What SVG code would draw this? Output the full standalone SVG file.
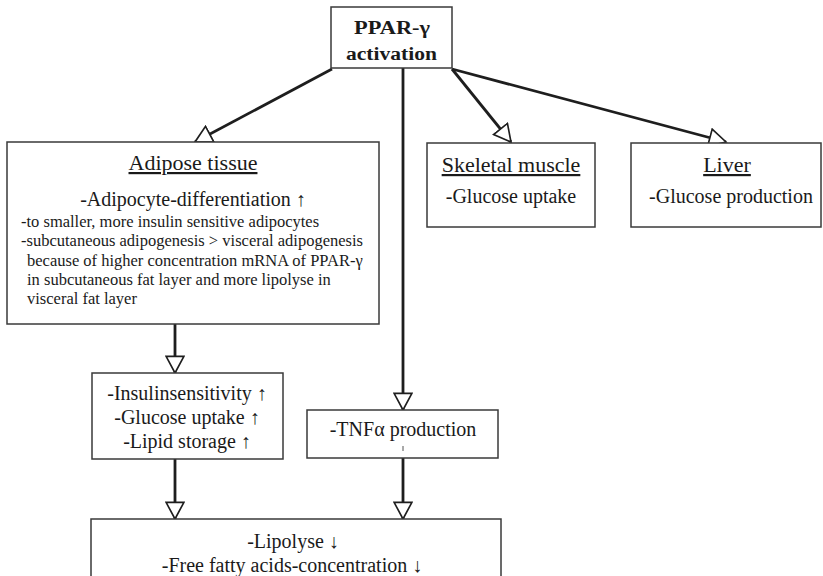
<svg xmlns="http://www.w3.org/2000/svg" width="823" height="576" viewBox="0 0 823 576">
<style>
.box{fill:#fff;stroke:#3a3a3a;stroke-width:1.5}
.conn{stroke:#1e1e1e;stroke-width:2.8;fill:none;marker-end:url(#oa)}
</style>
<defs>
<marker id="oa" markerUnits="userSpaceOnUse" markerWidth="20" markerHeight="20" viewBox="0 0 18 18" refX="16" refY="9" orient="auto">
<path d="M1,1 L16,9 L1,17 Z" fill="#fff" stroke="#1e1e1e" stroke-width="1.5" stroke-linejoin="miter"/>
</marker>
</defs>
<rect width="823" height="576" fill="#fff"/>
<g id="connectors">
<line class="conn" x1="332" y1="69" x2="195" y2="142"/>
<line class="conn" x1="452" y1="69" x2="511" y2="142"/>
<line class="conn" x1="452" y1="69" x2="726" y2="142"/>
<line class="conn" x1="403" y1="68" x2="403" y2="410"/>
<line class="conn" x1="175" y1="324" x2="175" y2="373"/>
<line class="conn" x1="175" y1="459" x2="175" y2="519"/>
<line class="conn" x1="403" y1="458" x2="403" y2="519"/>
</g>
<g font-family="Liberation Serif" fill="#1a1a1a">
<g id="ppar" text-anchor="middle">
<rect class="box" x="331" y="7" width="121" height="61"/>
<text x="392" y="34" font-size="18" font-weight="bold" textLength="76" lengthAdjust="spacingAndGlyphs">PPAR-γ</text>
<text x="391.5" y="60" font-size="18" font-weight="bold" textLength="91" lengthAdjust="spacingAndGlyphs">activation</text>
</g>
<g id="adipose">
<rect class="box" x="7" y="142" width="372" height="182"/>
<text x="193" y="170" font-size="22" text-anchor="middle" text-decoration="underline">Adipose tissue</text>
<text x="193" y="206" font-size="20" text-anchor="middle">-Adipocyte-differentiation ↑</text>
<text x="21" y="227" font-size="16.5">-to smaller, more insulin sensitive adipocytes</text>
<text x="21" y="246" font-size="16.5">-subcutaneous adipogenesis &gt; visceral adipogenesis</text>
<text x="27" y="266" font-size="16.5">because of higher concentration mRNA of PPAR-γ</text>
<text x="27" y="285" font-size="16.5">in subcutaneous fat layer and more lipolyse in</text>
<text x="27" y="304" font-size="16.5">visceral fat layer</text>
</g>
<g id="skeletal" text-anchor="middle">
<rect class="box" x="427" y="143" width="168" height="84"/>
<text x="511" y="172" font-size="22" text-decoration="underline">Skeletal muscle</text>
<text x="511" y="203" font-size="20">-Glucose uptake</text>
</g>
<g id="liver" text-anchor="middle">
<rect class="box" x="631" y="143" width="190" height="84"/>
<text x="727" y="172" font-size="22" text-decoration="underline">Liver</text>
<text x="731" y="203" font-size="20">-Glucose production</text>
</g>
<g id="insulin" text-anchor="middle">
<rect class="box" x="92" y="373" width="191" height="86"/>
<text x="187" y="400" font-size="20">-Insulinsensitivity ↑</text>
<text x="187" y="424" font-size="20">-Glucose uptake ↑</text>
<text x="187" y="448" font-size="20">-Lipid storage ↑</text>
</g>
<g id="tnf" text-anchor="middle">
<rect class="box" x="307" y="410" width="191" height="48"/>
<text x="403" y="436" font-size="20">-TNFα production</text>
<line x1="403" y1="446" x2="403" y2="451" stroke="#555" stroke-width="1"/>
</g>
<g id="lipolyse" text-anchor="middle">
<rect class="box" x="91" y="519" width="410" height="70"/>
<text x="293" y="548" font-size="20">-Lipolyse ↓</text>
<text x="292" y="572" font-size="20">-Free fatty acids-concentration ↓</text>
</g>
</g>
</svg>
